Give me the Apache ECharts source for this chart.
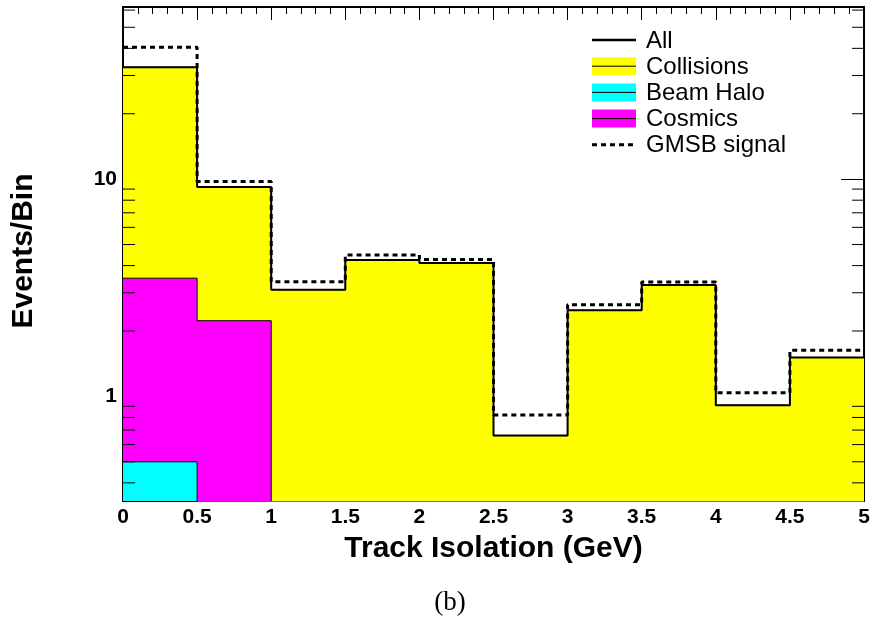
<!DOCTYPE html>
<html>
<head>
<meta charset="utf-8">
<script src="https://cdn.jsdelivr.net/npm/echarts@6/dist/echarts.min.js"></script>
<style>
  html, body { margin: 0; padding: 0; background: #fff; }
  #chart { width: 873px; height: 622px; }
</style>
</head>
<body>
<div id="chart"></div>
<script>
// bin edges in GeV (10 bins of 0.5)
var binEdges = [0, 0.5, 1, 1.5, 2, 2.5, 3, 3.5, 4, 4.5, 5];

// per-bin contents (stacked: halo, cosmics, collisions)
var beamHalo   = [0.50, 0, 0, 0, 0, 0, 0, 0, 0, 0];
var cosmics    = [3.00, 2.23, 0, 0, 0, 0, 0, 0, 0, 0];
var collisions = [29.2, 6.96, 3.10, 4.25, 4.11, 0.66, 2.49, 3.26, 0.91, 1.51];
var gmsb       = [40.5, 9.75, 3.37, 4.48, 4.27, 0.82, 2.64, 3.36, 1.04, 1.63];

// log axis range and the small ticks between decades
var yMin = 0.33, yMax = 62;
var yMinorTicks = [0.4, 0.5, 0.6, 0.7, 0.8, 0.9, 2, 3, 4, 5, 6, 7, 8, 9, 20, 30, 40, 50, 60];

var legendNames = ['All', 'Collisions', 'Beam Halo', 'Cosmics', 'GMSB signal'];

var YELLOW = '#ffff00', CYAN = '#00ffff', MAGENTA = '#ff00ff';
var FONT = '"Liberation Sans", Arial, Helvetica, sans-serif';

// sum of several per-bin arrays
function addUp() {
  var arrs = Array.prototype.slice.call(arguments);
  return arrs[0].map(function (v, i) {
    var s = 0;
    arrs.forEach(function (a) { s += a[i]; });
    return s;
  });
}

// histogram outline as points for step:'end'; empty bins go far below the axis
function toSteps(vals) {
  var pts = vals.map(function (v, i) { return [binEdges[i], v > 0 ? v : 1e-3]; });
  pts.push([binEdges[vals.length], vals[vals.length - 1] > 0 ? vals[vals.length - 1] : 1e-3]);
  return pts;
}

var haloTop = addUp(beamHalo);
var cosmicsTop = addUp(beamHalo, cosmics);
var allTop = addUp(beamHalo, cosmics, collisions);

function histo(name, vals, fill, width, z) {
  var s = {
    name: name,
    type: 'line',
    step: 'end',
    symbol: 'none',
    clip: true,
    z: z,
    data: toSteps(vals),
    lineStyle: { color: '#000', width: width }
  };
  if (fill) s.areaStyle = { color: fill, opacity: 1, origin: 'start' };
  return s;
}

// legend drawn by hand so the filled boxes get the black line through them
var graphics = [];
legendNames.forEach(function (name, k) {
  var cy = 40 + k * 26.2;
  var fills = { 'Collisions': YELLOW, 'Beam Halo': CYAN, 'Cosmics': MAGENTA };
  if (fills[name]) {
    graphics.push({ type: 'rect', z: 100, shape: { x: 592, y: cy - 9, width: 44, height: 18 },
      style: { fill: fills[name] } });
    graphics.push({ type: 'line', z: 101, shape: { x1: 592, y1: cy, x2: 636, y2: cy },
      style: { stroke: '#000', lineWidth: 1 } });
  } else if (name === 'All') {
    graphics.push({ type: 'line', z: 101, shape: { x1: 592, y1: cy, x2: 636, y2: cy },
      style: { stroke: '#000', lineWidth: 2.5 } });
  } else {
    graphics.push({ type: 'line', z: 101, shape: { x1: 592, y1: cy, x2: 636, y2: cy },
      style: { stroke: '#000', lineWidth: 3, lineDash: [5, 4] } });
  }
  graphics.push({ type: 'text', z: 101, x: 646, y: cy + 1,
    style: { text: name, fill: '#000', fontSize: 24, fontFamily: FONT,
             verticalAlign: 'middle', textVerticalAlign: 'middle' } });
});
graphics.push({ type: 'text', x: 450, y: 603,
  style: { text: '(b)', fill: '#000', fontSize: 27, fontFamily: '"Liberation Serif", "DejaVu Serif", serif',
           align: 'center', textAlign: 'center', verticalAlign: 'middle', textVerticalAlign: 'middle' } });

var chart = echarts.init(document.getElementById('chart'));

var xAxisBase = {
  type: 'value',
  min: 0,
  max: 5,
  interval: 0.5,
  splitLine: { show: false },
  axisLine: { onZero: false, lineStyle: { color: '#000', width: 2 } },
  axisTick: { inside: true, length: 13, lineStyle: { color: '#000', width: 1 } },
  minorTick: { show: true, splitNumber: 5, length: 7, lineStyle: { color: '#000', width: 1 } }
};

var yAxisBase = {
  type: 'log',
  logBase: 10,
  min: yMin,
  max: yMax,
  splitLine: { show: false },
  axisLine: { onZero: false, lineStyle: { color: '#000', width: 2 } },
  axisTick: { inside: true, length: 23, lineStyle: { color: '#000', width: 1 } }
};

var option = {
  backgroundColor: '#ffffff',
  animation: false,
  grid: { left: 123, right: 9, top: 7, bottom: 121, outerBoundsMode: 'none' },
  xAxis: [
    Object.assign({}, xAxisBase, {
      position: 'bottom',
      name: 'Track Isolation (GeV)',
      nameLocation: 'middle',
      nameGap: 33,
      nameTextStyle: { color: '#000', fontSize: 30, fontWeight: 'bold', fontFamily: FONT },
      axisLabel: { color: '#000', fontSize: 21, fontWeight: 'bold', fontFamily: FONT, margin: 6 }
    }),
    Object.assign({}, xAxisBase, { position: 'top', axisLabel: { show: false } })
  ],
  yAxis: [
    Object.assign({}, yAxisBase, {
      position: 'left',
      name: 'Events/Bin',
      nameLocation: 'middle',
      nameGap: 84,
      nameTextStyle: { color: '#000', fontSize: 30, fontWeight: 'bold', fontFamily: FONT,
                       padding: [0, 0, 0, 6] },
      axisLabel: {
        color: '#000', fontSize: 21, fontWeight: 'bold', fontFamily: FONT, margin: 6,
        formatter: function (v) {
          var l = Math.log(v) / Math.LN10;
          return Math.abs(l - Math.round(l)) < 1e-6 ? String(Math.round(v)) : '';
        }
      }
    }),
    Object.assign({}, yAxisBase, { position: 'right', axisLabel: { show: false } })
  ],
  graphic: graphics,
  series: [
    histo('Collisions', allTop, YELLOW, 1, 1),
    histo('Cosmics', cosmicsTop, MAGENTA, 1, 2),
    histo('Beam Halo', haloTop, CYAN, 1, 3),
    histo('All', allTop, null, 2, 4),
    {
      name: 'GMSB signal',
      type: 'line',
      step: 'end',
      symbol: 'none',
      z: 5,
      data: toSteps(gmsb),
      lineStyle: { color: '#000', width: 3, type: [5, 4] }
    },
    {
      // small log ticks on left and right frame
      name: 'minor ticks',
      type: 'custom',
      z: 6,
      silent: true,
      data: yMinorTicks.map(function (v) { return [binEdges[0], v]; }),
      renderItem: function (params, api) {
        var l = api.coord([binEdges[0], api.value(1)]);
        var r = api.coord([binEdges[binEdges.length - 1], api.value(1)]);
        var st = { stroke: '#000', lineWidth: 1 };
        return {
          type: 'group',
          children: [
            { type: 'line', shape: { x1: l[0], y1: l[1], x2: l[0] + 12, y2: l[1] }, style: st },
            { type: 'line', shape: { x1: r[0] - 12, y1: r[1], x2: r[0], y2: r[1] }, style: st }
          ]
        };
      }
    }
  ]
};

chart.setOption(option);
</script>
</body>
</html>
